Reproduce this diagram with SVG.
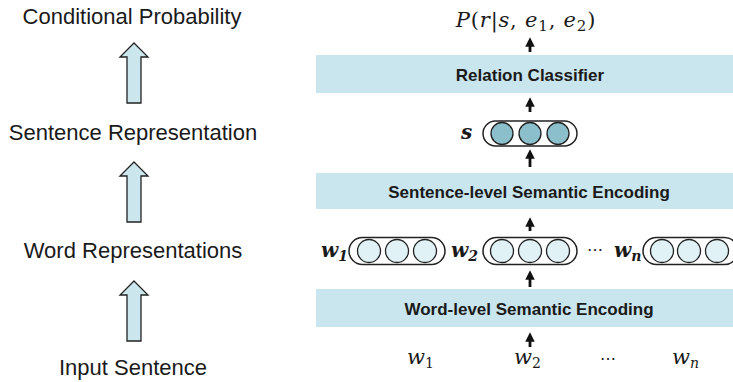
<svg xmlns="http://www.w3.org/2000/svg" width="733" height="382" viewBox="0 0 733 382">
<style>
.lbl{font-family:"Liberation Sans",Arial,sans-serif;font-size:22px;fill:#1a1a1a;text-anchor:middle}
.bar{fill:#c9e5ed}
.bt{font-family:"Liberation Sans",Arial,sans-serif;font-weight:bold;font-size:17px;fill:#1a1a1a;text-anchor:middle}
.hol{fill:#cce6ee;stroke:#222;stroke-width:1.3}
.cap{fill:#fff;stroke:#222;stroke-width:1.5}
.cw{fill:#e1f2f7;stroke:#222;stroke-width:1.3}
.cs{fill:#8bbfcc;stroke:#222;stroke-width:1.3}
.math{font-family:"DejaVu Serif","Liberation Serif",serif;fill:#1a1a1a}
.vb{font-family:"DejaVu Serif","Liberation Serif",serif;font-weight:bold;font-style:italic;fill:#1a1a1a;font-size:20px}
.sh{stroke:#111;stroke-width:2.8}
</style>
<defs>
<marker id="ah" viewBox="0 0 10 10" refX="5" refY="5" markerWidth="3.4" markerHeight="3.4" orient="auto">
<path d="M0,0 L10,5 L0,10 z" fill="#111"/>
</marker>
<path id="hollow" d="M0,0 L14,14 L7,14 L7,60 L-7,60 L-7,14 L-14,14 z"/>
</defs>

<g id="left-labels">
<text class="lbl" x="132" y="24">Conditional Probability</text>
<text class="lbl" x="133" y="140">Sentence Representation</text>
<text class="lbl" x="133" y="258">Word Representations</text>
<text class="lbl" x="133" y="375">Input Sentence</text>
</g>

<g id="left-arrows">
<use href="#hollow" class="hol" x="134" y="43"/>
<use href="#hollow" class="hol" x="134" y="162"/>
<use href="#hollow" class="hol" x="134" y="281"/>
</g>

<g id="output">
<text class="math" x="526" y="27" font-size="21" letter-spacing="0.8" text-anchor="middle"><tspan font-style="italic">P</tspan>(<tspan font-style="italic">r</tspan>|<tspan font-style="italic">s</tspan>, <tspan font-style="italic">e</tspan><tspan font-size="15" dy="4">1</tspan><tspan dy="-4">, </tspan><tspan font-style="italic">e</tspan><tspan font-size="15" dy="4">2</tspan><tspan dy="-4">)</tspan></text>
</g>

<g id="relation-classifier">
<rect class="bar" x="316" y="55" width="417" height="38"/>
<text class="bt" x="530" y="81">Relation Classifier</text>
</g>

<g id="sentence-vector">
<text class="vb" x="461" y="139">s</text>
<rect class="cap" x="483" y="121" width="94" height="25" rx="12.5"/>
<circle class="cs" cx="502" cy="133.5" r="11"/>
<circle class="cs" cx="530" cy="133.5" r="11"/>
<circle class="cs" cx="558" cy="133.5" r="11"/>
</g>

<g id="sentence-encoding">
<rect class="bar" x="316" y="173" width="417" height="36"/>
<text class="bt" x="529" y="198">Sentence-level Semantic Encoding</text>
</g>

<g id="word-vectors">
<text class="vb" x="321" y="257">w<tspan font-size="14" dy="4">1</tspan></text>
<rect class="cap" x="349" y="237.5" width="96" height="27" rx="13.5"/>
<circle class="cw" cx="369" cy="251" r="11.5"/>
<circle class="cw" cx="397" cy="251" r="11.5"/>
<circle class="cw" cx="425" cy="251" r="11.5"/>

<text class="vb" x="451" y="257">w<tspan font-size="14" dy="4">2</tspan></text>
<rect class="cap" x="483" y="237.5" width="94" height="27" rx="13.5"/>
<circle class="cw" cx="502" cy="251" r="11.5"/>
<circle class="cw" cx="530" cy="251" r="11.5"/>
<circle class="cw" cx="558" cy="251" r="11.5"/>

<text class="math" x="587" y="255" font-size="16">⋯</text>

<text class="vb" x="614" y="257">w<tspan font-size="14" dy="4">n</tspan></text>
<rect class="cap" x="643" y="237.5" width="95" height="27" rx="13.5"/>
<circle class="cw" cx="662" cy="251" r="11.5"/>
<circle class="cw" cx="689" cy="251" r="11.5"/>
<circle class="cw" cx="717" cy="251" r="11.5"/>
</g>

<g id="word-encoding">
<rect class="bar" x="316" y="289" width="417" height="38"/>
<text class="bt" x="529" y="315">Word-level Semantic Encoding</text>
</g>

<g id="input-words">
<text class="math" x="407" y="364" font-size="21" font-style="italic">w<tspan font-size="14" font-style="normal" dy="4">1</tspan></text>
<text class="math" x="514" y="364" font-size="21" font-style="italic">w<tspan font-size="14" font-style="normal" dy="4">2</tspan></text>
<text class="math" x="600" y="364" font-size="16">⋯</text>
<text class="math" x="672" y="364" font-size="21" font-style="italic">w<tspan font-size="14" dy="4">n</tspan></text>
</g>

<g id="connectors">
<line class="sh" x1="530" y1="52" x2="530" y2="42" marker-end="url(#ah)"/>
<line class="sh" x1="530" y1="112" x2="530" y2="102" marker-end="url(#ah)"/>
<line class="sh" x1="530" y1="167" x2="530" y2="154" marker-end="url(#ah)"/>
<line class="sh" x1="530" y1="231" x2="530" y2="222" marker-end="url(#ah)"/>
<line class="sh" x1="530" y1="287" x2="530" y2="275" marker-end="url(#ah)"/>
<line class="sh" x1="530" y1="347" x2="530" y2="337" marker-end="url(#ah)"/>
</g>
</svg>
